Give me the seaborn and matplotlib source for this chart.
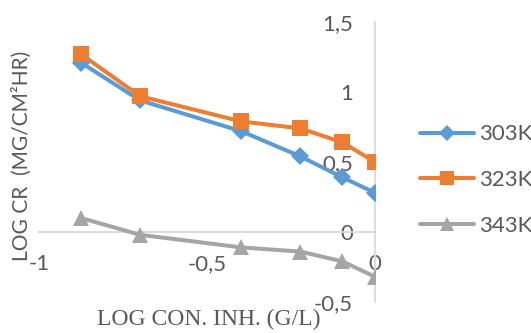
import matplotlib
matplotlib.use("Agg")
import matplotlib.pyplot as plt
import seaborn as sns
import pandas as pd
from matplotlib.lines import Line2D

# Log of inhibitor concentration (g/L)
log_conc = [-0.875, -0.699, -0.398, -0.222, -0.097, 0.0]

# Log corrosion rate (mg/cm²hr) at each temperature
cr_303 = [1.21, 0.94, 0.72, 0.54, 0.39, 0.28]
cr_323 = [1.27, 0.97, 0.79, 0.74, 0.64, 0.50]
cr_343 = [0.10, -0.02, -0.11, -0.14, -0.21, -0.32]

series_names = ["303K", "323K", "343K"]
series_values = [cr_303, cr_323, cr_343]
series_colors = ["#5B9BD5", "#ED7D31", "#A5A5A5"]
series_markers = ["D", "s", "^"]
series_msize = [9.5, 12, 12]

x_ticks = [-1, -0.5, 0]
x_tick_labels = ["-1", "-0,5", "0"]
y_ticks = [-0.5, 0, 0.5, 1, 1.5]
y_tick_labels = ["-0,5", "0", "0,5", "1", "1,5"]

sns.set_theme(style="white")
plt.rcParams["font.family"] = ["Lato", "DejaVu Sans"]

text_color = "#595959"
axis_color = "#D9D9D9"

fig = plt.figure(figsize=(5.31, 3.33), dpi=100)
ax = fig.add_axes([39 / 531, 1 - 302 / 333, (375 - 39) / 531, (302 - 22) / 333])

handles = []
for name, vals, col, mk, ms in zip(series_names, series_values, series_colors,
                                    series_markers, series_msize):
    df = pd.DataFrame({"x": log_conc, "y": vals})
    sns.lineplot(data=df, x="x", y="y", ax=ax, color=col, linewidth=2.9,
                 marker=mk, markersize=ms, markeredgewidth=0, sort=False,
                 legend=False, zorder=3)
    handles.append(Line2D([], [], color=col, linewidth=2.9, marker=mk,
                          markersize=ms - 1.5, markeredgewidth=0, label=name))

ax.set_xlim(-1, 0)
ax.set_ylim(-0.5, 1.5)

# Axes cross at the origin, Excel style
ax.spines["left"].set_position(("data", 0))
ax.spines["bottom"].set_position(("data", 0))
ax.spines["top"].set_visible(False)
ax.spines["right"].set_visible(False)
for s in ("left", "bottom"):
    ax.spines[s].set_color(axis_color)
    ax.spines[s].set_linewidth(1.3)
    ax.spines[s].set_zorder(1)

ax.set_xticks(x_ticks)
ax.set_xticklabels(x_tick_labels)
ax.set_yticks(y_ticks)
ax.set_yticklabels(y_tick_labels)
ax.tick_params(axis="both", length=0, labelsize=16, labelcolor=text_color)
ax.tick_params(axis="y", pad=16)
ax.tick_params(axis="x", pad=16)
ax.grid(False)
ax.patch.set_alpha(0)

ax.set_xlabel("LOG CON. INH. (G/L)", family=["Liberation Serif"], fontsize=17,
              color=text_color)
ax.xaxis.set_label_coords((209 - 39) / 336, (302 - 319) / 280)
ax.xaxis.label.set_va("center")
ax.set_ylabel("LOG CR  (MG/CM²HR)", fontsize=15, color=text_color)
ax.yaxis.set_label_coords((22 - 39) / 336, (302 - 156) / 280)
ax.yaxis.label.set_va("center")

fig.legend(handles=handles, loc="center left",
           bbox_to_anchor=(420 / 531, 1 - 180 / 333), frameon=False,
           fontsize=16, labelcolor=text_color, handlelength=2.45,
           handletextpad=0.2, labelspacing=1.15, borderpad=0,
           borderaxespad=0)

fig.savefig("out.png", dpi=100)
